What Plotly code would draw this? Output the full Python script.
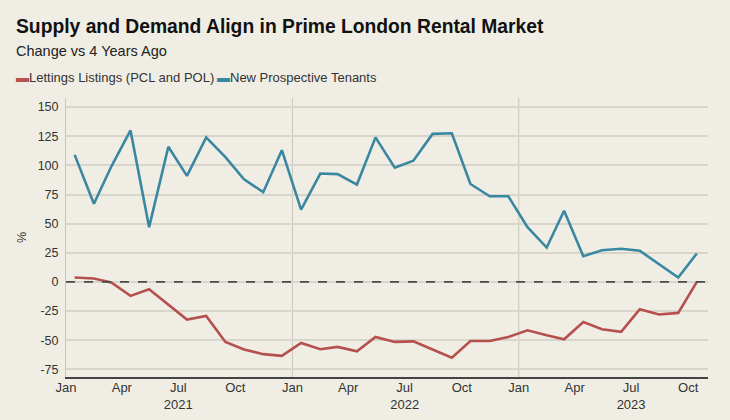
import plotly.graph_objects as go
import pandas as pd

# ---- data ----
months = pd.date_range("2021-01-01", periods=34, freq="MS") + pd.Timedelta(days=14)
lettings = [3.8, 2.9, -0.5, -12, -6.3, -19.4, -32.3, -29.2, -51.5, -58, -62, -63.5,
            -52.4, -57.8, -55.8, -59.5, -47.2, -51.5, -51, -58, -65, -50.7, -50.7, -47.2,
            -41.5, -45.8, -49.2, -34.4, -40.6, -42.9, -23.5, -28, -26.6, 0]
tenants = [109, 67, 99, 130, 47, 116, 91, 124, 107, 88, 77, 113,
           62, 93, 92.5, 83.5, 124, 98, 104, 127, 127.5, 84, 73.5, 73.5,
           47, 29.5, 61, 22, 27.2, 28.4, 26.7, 15.5, 3.8, 24.4]
years = [2021, 2022, 2023]
month_labels = ["Jan", "Apr", "Jul", "Oct"]
tick_months = [1, 4, 7, 10]
y_ticks = [-75, -50, -25, 0, 25, 50, 75, 100, 125, 150]
series_names = ["Lettings Listings (PCL and POL)", "New Prospective Tenants"]

RED = "#B5504D"
BLUE = "#3A87A1"
BG = "#F0EEE4"

L, R, T, B = 66, 22, 98, 43
PW = 730 - L - R
PH = 420 - T - B


def px_x(px):
    return (px - L) / PW


def px_y(py):
    return (420 - B - py) / PH


tickvals, ticktext = [], []
for yr in years:
    for m, lab in zip(tick_months, month_labels):
        d = pd.Timestamp(year=yr, month=m, day=1)
        if d > pd.Timestamp("2023-11-01"):
            continue
        tickvals.append(d)
        ticktext.append(f"{lab}<br>{yr}" if lab == "Jul" else lab)

fig = go.Figure()
fig.add_trace(go.Scatter(x=months, y=lettings, mode="lines", name=series_names[0],
                         line=dict(color=RED, width=2.6), showlegend=False))
fig.add_trace(go.Scatter(x=months, y=tenants, mode="lines", name=series_names[1],
                         line=dict(color=BLUE, width=2.6), showlegend=False))

shapes = []
for yr in years[1:]:
    d = pd.Timestamp(year=yr, month=1, day=1)
    shapes.append(dict(type="line", xref="x", yref="paper", x0=d, x1=d, y0=0, y1=1,
                       line=dict(color="#C9C6BC", width=1), layer="below"))
shapes.append(dict(type="line", xref="paper", yref="y", x0=0, x1=1, y0=0, y1=0,
                   line=dict(color="#4A4A4A", width=1.7, dash="dash")))

annotations = [dict(text="Change vs 4 Years Ago", xref="paper", yref="paper",
                    x=px_x(14), y=px_y(51.5), xanchor="left", yanchor="middle",
                    showarrow=False, font=dict(size=14.5, color="#222222"))]
for name, col, xpos in zip(series_names, [RED, BLUE], [14, 215]):
    annotations.append(dict(
        text=f"<span style='color:{col}'>▬</span>{name}",
        xref="paper", yref="paper", x=px_x(xpos), y=px_y(77.5),
        xanchor="left", yanchor="middle", showarrow=False,
        font=dict(size=13, color="#333333")))

fig.update_layout(
    width=730, height=420,
    paper_bgcolor=BG, plot_bgcolor=BG,
    margin=dict(l=L, r=R, t=T, b=B),
    font=dict(family="Liberation Sans, Arial, sans-serif", size=12, color="#333333"),
    title=dict(text="<b>Supply and Demand Align in Prime London Rental Market</b>",
               xref="container", yref="container", x=16/730, xanchor="left",
               y=1 - 26/420, yanchor="middle",
               font=dict(size=19.3, color="#111111")),
    showlegend=False,
    annotations=annotations,
    shapes=shapes,
    xaxis=dict(type="date", range=["2021-01-01", "2023-11-02"], tickvals=tickvals, ticktext=ticktext,
               showgrid=False, showline=True, linecolor="#444444", linewidth=2, ticks="",
               automargin=False, ticklabelstandoff=-3,
               zeroline=False, tickfont=dict(size=13, color="#333333")),
    yaxis=dict(range=[-81.6, 157.8], tickvals=y_ticks, ticktext=[str(v) for v in y_ticks],
               showgrid=True, gridcolor="#D8D5CB", automargin=False,
               gridwidth=1.5, zeroline=False, showline=True, linecolor="#C9C6BC", linewidth=1,
               ticks="", ticklabelstandoff=4,
               title=dict(text="%", standoff=8, font=dict(size=12.5, color="#333333")),
               tickfont=dict(size=12.5, color="#333333")),
)

fig.write_html("out.html")
